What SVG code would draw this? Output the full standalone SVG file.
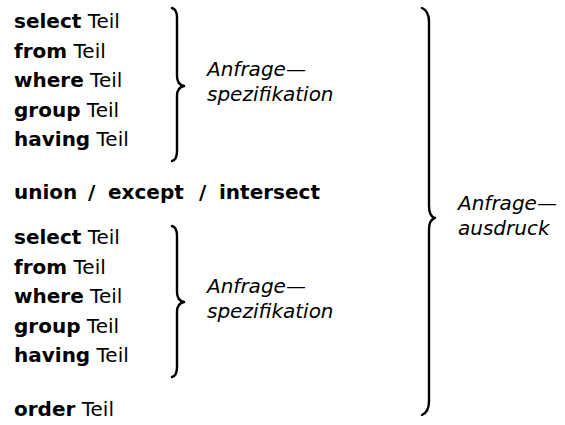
<svg xmlns="http://www.w3.org/2000/svg" width="565" height="425" viewBox="0 0 565 425">
<style>
text{font-family:"DejaVu Sans","Liberation Sans",sans-serif;font-size:20px;fill:#000}
.b{font-weight:bold}
.l{font-style:italic}
.br{fill:none;stroke:#000;stroke-width:2.4;stroke-linecap:round;stroke-linejoin:round}
</style>
<rect width="565" height="425" fill="#fff"/>
<g id="block1">
<text x="14" y="28"><tspan class="b">select</tspan> Teil</text>
<text x="14" y="57.5"><tspan class="b">from</tspan> Teil</text>
<text x="14" y="87"><tspan class="b">where</tspan> Teil</text>
<text x="14" y="116.5"><tspan class="b">group</tspan> Teil</text>
<text x="14" y="146"><tspan class="b">having</tspan> Teil</text>
</g>
<g id="setop">
<text class="b" y="199"><tspan x="14">union</tspan><tspan x="88">/</tspan><tspan x="108">except</tspan><tspan x="199">/</tspan><tspan x="219">intersect</tspan></text>
</g>
<g id="block2">
<text x="14" y="244"><tspan class="b">select</tspan> Teil</text>
<text x="14" y="273.5"><tspan class="b">from</tspan> Teil</text>
<text x="14" y="303"><tspan class="b">where</tspan> Teil</text>
<text x="14" y="332.5"><tspan class="b">group</tspan> Teil</text>
<text x="14" y="362"><tspan class="b">having</tspan> Teil</text>
</g>
<g id="order">
<text x="14" y="416"><tspan class="b">order</tspan> Teil</text>
</g>
<g id="braces">
<path class="br" d="M172,8 C176,9 177,12 177,18 L177,76 C177,82 179,85 184,86 C179,87 177,90 177,96 L177,151 C177,157 176,160 172,161"/>
<path class="br" d="M172,226 C176,227 177,230 177,236 L177,292 C177,298 179,301 184,302 C179,303 177,306 177,312 L177,367 C177,373 176,376 172,377"/>
<path class="br" d="M422,8 C427,10 429,14 429,22 L429,206 C429,213 431,217 435,218 C431,219 429,223 429,230 L429,401 C429,409 427,413 422,415"/>
</g>
<g id="label1">
<text class="l" x="207" y="76">Anfrage—</text>
<text class="l" x="207" y="101">spezifikation</text>
</g>
<g id="label2">
<text class="l" x="207" y="293">Anfrage—</text>
<text class="l" x="207" y="318">spezifikation</text>
</g>
<g id="label3">
<text class="l" x="458" y="210">Anfrage—</text>
<text class="l" x="458" y="235">ausdruck</text>
</g>
</svg>
